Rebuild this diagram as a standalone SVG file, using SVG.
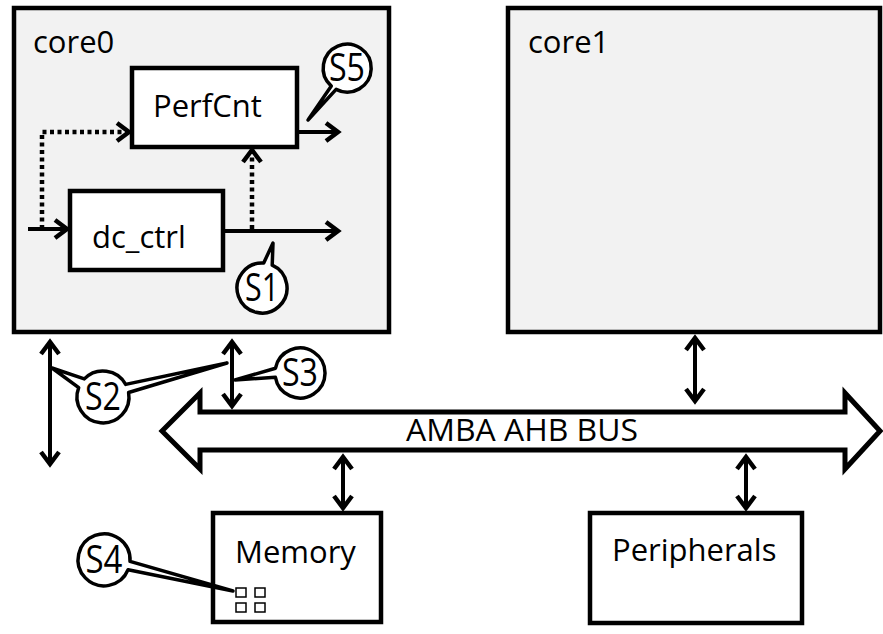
<svg xmlns="http://www.w3.org/2000/svg" width="883" height="634" viewBox="0 0 883 634">
<style>
.core{fill:#f2f2f2;stroke:#000;stroke-width:4.5}
.box{fill:#fff;stroke:#000;stroke-width:4.5}
.t{font-family:"Open Sans","Noto Sans","Liberation Sans",sans-serif;font-size:31px;fill:#000}
.co{fill:#fff;stroke:#000;stroke-width:3.5;stroke-linejoin:round}
.ct{font-family:"Open Sans","Noto Sans","Liberation Sans",sans-serif;font-size:38px;fill:#000;text-anchor:middle}
.ln{fill:none;stroke:#000;stroke-width:4}
.dot{fill:none;stroke:#000;stroke-width:4.5;stroke-dasharray:4 3.5}
.ar{marker-end:url(#ah)}
.dar{marker-start:url(#ah);marker-end:url(#ah)}
.cell{fill:#fff;stroke:#000;stroke-width:1.5}
</style>
<defs>
<marker id="ah" viewBox="-14 -10 16 20" refX="0" refY="0" markerWidth="16" markerHeight="20" orient="auto-start-reverse" markerUnits="userSpaceOnUse" overflow="visible">
<path d="M-12,-9 L0,0 L-12,9" fill="none" stroke="#000" stroke-width="4.5" stroke-dasharray="none" stroke-linejoin="miter"/>
</marker>
</defs>

<g id="core0">
<rect class="core" x="14" y="8" width="375" height="324"/>
<text class="t" x="33" y="53">core0</text>
</g>
<g id="core1">
<rect class="core" x="508" y="8" width="372" height="324"/>
<text class="t" x="528" y="53">core1</text>
</g>
<g id="PerfCnt">
<rect class="box" x="132" y="68" width="165" height="79"/>
<text class="t" x="153" y="117">PerfCnt</text>
</g>
<g id="dc_ctrl">
<rect class="box" x="70" y="191" width="153" height="79"/>
<text class="t" x="92" y="248">dc_ctrl</text>
</g>
<g id="bus">
<polygon points="162,431 200,393 200,412 845,412 845,393 880,431 845,469 845,450 200,450 200,469" fill="#fff" stroke="#000" stroke-width="5" stroke-linejoin="miter"/>
<text class="t" x="522" y="441" text-anchor="middle" textLength="232" lengthAdjust="spacingAndGlyphs">AMBA AHB BUS</text>
</g>
<g id="Memory">
<rect class="box" x="213" y="513" width="168" height="109"/>
<text class="t" x="235" y="563">Memory</text>
<rect class="cell" x="236" y="588" width="10" height="9"/>
<rect class="cell" x="255" y="588" width="10" height="9"/>
<rect class="cell" x="236" y="603" width="10" height="9"/>
<rect class="cell" x="255" y="603" width="10" height="9"/>
</g>
<g id="Peripherals">
<rect class="box" x="590" y="513" width="212" height="110"/>
<text class="t" x="612" y="561">Peripherals</text>
</g>

<g id="connectors">
<line class="ln ar" x1="28" y1="229" x2="67" y2="229"/>
<path class="dot ar" d="M42,229 V132 H129"/>
<line class="ln ar" x1="223" y1="231" x2="338" y2="231"/>
<path class="dot ar" d="M252,229 V150"/>
<line class="ln ar" x1="297" y1="132" x2="338" y2="132"/>
<line class="ln dar" x1="50" y1="342" x2="50" y2="464"/>
<line class="ln dar" x1="232" y1="342" x2="232" y2="406"/>
<line class="ln dar" x1="695" y1="338" x2="695" y2="401"/>
<line class="ln dar" x1="343" y1="457" x2="343" y2="508"/>
<line class="ln dar" x1="746" y1="457" x2="746" y2="508"/>
</g>

<g id="S1">
<path class="co" d="M272.2,265.2 A25 25 0 1 1 263.7,263.1 L273,243 Z"/>
<text class="ct" x="262" y="301" textLength="34" lengthAdjust="spacingAndGlyphs">S1</text>
</g>
<g id="S5">
<path class="co" d="M331.3,86.1 A24 24 0 1 1 336.1,89.4 L308,120 Z"/>
<text class="ct" x="347" y="81" textLength="36" lengthAdjust="spacingAndGlyphs">S5</text>
</g>
<g id="S2">
<path class="co" d="M84.3,378.9 A26 26 0 0 1 125.7,384.4 L227,363 L128.6,392.5 A26 26 0 1 1 78.7,387.7 L52,368 Z"/>
<text class="ct" x="103" y="410" textLength="36" lengthAdjust="spacingAndGlyphs">S2</text>
</g>
<g id="S3">
<path class="co" d="M275.5,368.2 A25 25 0 1 1 275.4,377.3 L235,380 Z"/>
<text class="ct" x="300" y="386" textLength="36" lengthAdjust="spacingAndGlyphs">S3</text>
</g>
<g id="S4">
<path class="co" d="M128.1,569.7 A26 26 0 1 1 130,561.4 L233,591 Z"/>
<text class="ct" x="104" y="573" textLength="37" lengthAdjust="spacingAndGlyphs">S4</text>
</g>
</svg>
